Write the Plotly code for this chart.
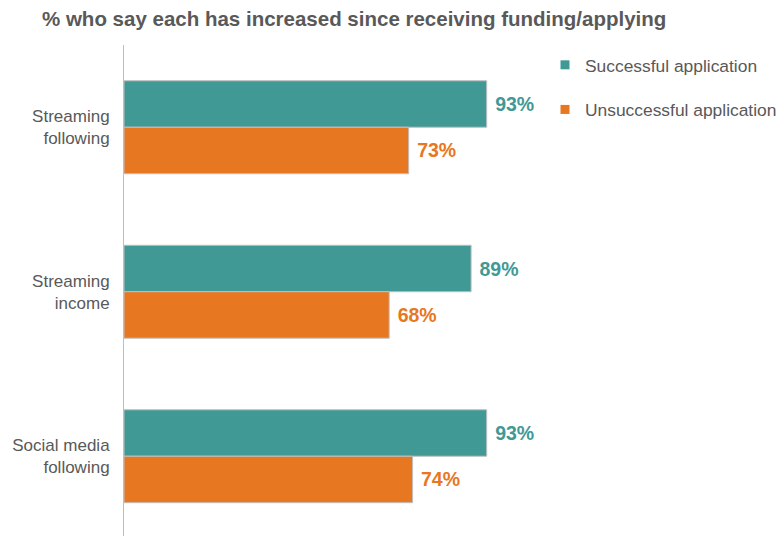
import plotly.graph_objects as go

categories = ["Streaming<br>following", "Streaming<br>income", "Social media<br>following"]
successful = [93, 89, 93]
unsuccessful = [73, 68, 74]
series_names = ["Successful application", "Unsuccessful application"]

TEAL = "#419996"
ORANGE = "#E87722"
GREY = "#595959"
FONT = "Liberation Sans, Arial, sans-serif"

fig = go.Figure()
for name, vals, col in [(series_names[0], successful, TEAL), (series_names[1], unsuccessful, ORANGE)]:
    fig.add_trace(go.Bar(
        y=categories, x=vals, name=name, orientation="h",
        marker=dict(color=col, line=dict(color="#BFBFBF", width=1)),
        text=[f" {v}%" for v in vals], textposition="outside",
        textfont=dict(family=FONT, size=19.5, color=col, weight="bold"),
        cliponaxis=False, legendgroup=name, showlegend=False,
    ))
    # legend-only entry with a small square swatch
    fig.add_trace(go.Scatter(
        x=[None], y=[None], mode="markers", name=name, legendgroup=name,
        marker=dict(symbol="square", size=9, color=col),
    ))

fig.update_layout(
    width=779, height=536,
    margin=dict(l=124, r=265, t=45, b=0, autoexpand=False),
    paper_bgcolor="white", plot_bgcolor="white",
    barmode="group", bargap=0.435, bargroupgap=0,
    font=dict(family=FONT, color=GREY),
    title=dict(text="<b>% who say each has increased since receiving funding/applying</b>",
               xref="container", yref="container", x=42/779, xanchor="left",
               y=1-19/536, yanchor="middle",
               font=dict(family=FONT, size=20.5, color=GREY)),
    xaxis=dict(range=[0, 100], visible=False, showgrid=False, zeroline=False),
    yaxis=dict(autorange=False, range=[2.485, -0.5], showline=True, linecolor="#BFBFBF", linewidth=1,
               ticks="", showgrid=False, zeroline=False, ticklabelstandoff=10,
               tickfont=dict(family=FONT, size=17, color=GREY)),
    legend=dict(xref="container", yref="container", x=545/779, xanchor="left",
                y=1-47/536, yanchor="top",
                font=dict(family=FONT, size=17.4, color=GREY),
                tracegroupgap=19, traceorder="grouped", bgcolor="rgba(0,0,0,0)"),
    showlegend=True,
)

fig.write_html("out.html")
